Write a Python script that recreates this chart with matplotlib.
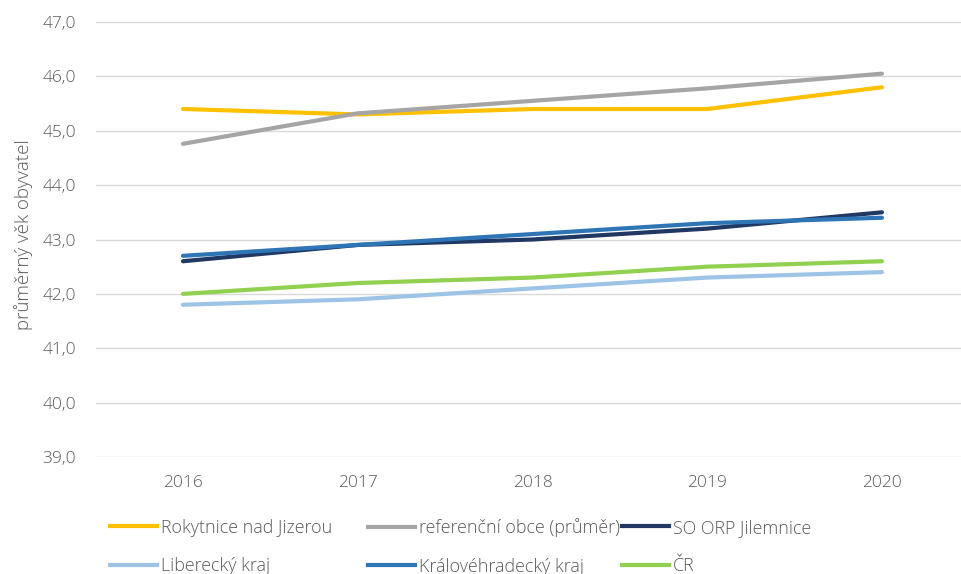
import matplotlib.pyplot as plt
from matplotlib.ticker import FuncFormatter
from matplotlib.lines import Line2D

plt.rcParams['font.family'] = ['Open Sans', 'DejaVu Sans']
plt.rcParams['font.weight'] = 'light'

years = ['2016', '2017', '2018', '2019', '2020']

rokytnice = [45.4, 45.3, 45.4, 45.4, 45.8]
referencni = [44.76, 45.32, 45.55, 45.78, 46.05]
so_orp = [42.6, 42.9, 43.0, 43.2, 43.5]
liberecky = [41.8, 41.9, 42.1, 42.3, 42.4]
kralovehradecky = [42.7, 42.9, 43.1, 43.3, 43.4]
cr = [42.0, 42.2, 42.3, 42.5, 42.6]

series = [
    ('Rokytnice nad Jizerou', rokytnice, '#FFC000'),
    ('referenční obce (průměr)', referencni, '#A5A5A5'),
    ('SO ORP Jilemnice', so_orp, '#203864'),
    ('Liberecký kraj', liberecky, '#9DC3E6'),
    ('Královéhradecký kraj', kralovehradecky, '#2E75B6'),
    ('ČR', cr, '#92D050'),
]

txt = '#595959'
fs = 12.5
fs_leg = 12.9

fig = plt.figure(figsize=(9.61, 5.74), dpi=100)
W, H = 961, 574
left, top, bottom = 95.6, 22, 457
ax = fig.add_axes([left / W, 1 - bottom / H, 1 - left / W, (bottom - top) / H])

x = range(len(years))
for name, vals, col in series:
    ax.plot(x, vals, color=col, lw=3, solid_capstyle='round', label=name)

step = 174.75
ax.set_xlim(-0.5, (W - left) / step - 0.5)
ax.set_ylim(39, 47)
ax.set_xticks(list(x))
ax.set_xticklabels(years)
ax.set_yticks(range(39, 48))
ax.yaxis.set_major_formatter(FuncFormatter(lambda v, p: f'{v:.1f}'.replace('.', ',')))
ax.tick_params(axis='both', length=0, labelsize=fs, labelcolor=txt)
ax.tick_params(axis='y', pad=14)
ax.tick_params(axis='x', pad=13)
ax.grid(axis='y', color='#D9D9D9', lw=1)
ax.set_axisbelow(True)
for s in ax.spines.values():
    s.set_visible(False)

fig.text(24 / W, 1 - 235 / H, 'průměrný věk obyvatel', rotation=90,
         ha='center', va='center', fontsize=13.5, color=txt)

# legend: three columns placed separately
col_x = [110, 368, 622]
for i, cx in enumerate(col_x):
    entries = [series[i], series[i + 3]]
    handles = [Line2D([], [], color=c, lw=3) for _, _, c in entries]
    labels = [n for n, _, _ in entries]
    leg = fig.legend(handles, labels, loc='center left',
                     bbox_to_anchor=(cx / W, 1 - 547 / H),
                     frameon=False, fontsize=fs_leg, handlelength=2.65,
                     handletextpad=0.2, labelspacing=1.15,
                     borderpad=0, borderaxespad=0)
    for t in leg.get_texts():
        t.set_color(txt)

fig.savefig('out.png', dpi=100)
